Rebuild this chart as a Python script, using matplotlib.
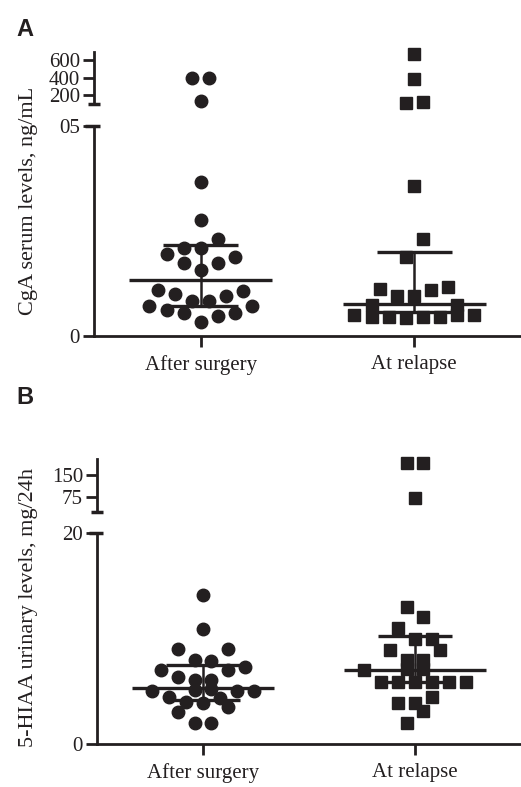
import numpy as np
import matplotlib
matplotlib.use("Agg")
import matplotlib.pyplot as plt

# ---- data ----
groups = ["After surgery", "At relapse"]

# panel A: CgA serum levels (ng/mL); slot = beeswarm column (half-steps)
cga_surgery = [395, 395, 134, 36.6, 27.6, 23.2, 20.9, 20.9, 19.5, 18.7, 17.3, 17.3, 15.7,
               11.0, 10.0, 10.8, 9.4, 8.4, 8.4, 7.1, 6.2, 7.1, 5.4, 4.8, 5.4, 3.4]
cga_surgery_slot = [-1, 1, 0, 0, 0, 2, -2, 0, -4, 4, -2, 2, 0,
                    -5, -3, 5, 3, -1, 1, -6, -4, 6, -2, 2, 4, 0]
cga_relapse = [667, 380, 108, 127, 35.7, 23.0, 18.8, 11.1, 9.6, 9.4, 11.0, 11.7,
               7.4, 7.4, 5.0, 4.6, 4.6, 4.2, 4.6, 4.6, 5.0, 5.0]
cga_relapse_slot = [0, 0, -1, 1, 0, 1, -1, -4, -2, 0, 2, 4,
                    -5, 5, -7, -5, -3, -1, 1, 3, 5, 7]
# median, q1, q3
cga_stats = [(13.3, 7.1, 21.7), (7.6, 5.8, 20.0)]

# panel B: 5-HIAA urinary levels (mg/24h)
hiaa_surgery = [14.1, 10.9, 9.0, 9.0, 8.0, 7.9, 7.0, 7.3, 7.0, 6.4, 6.1, 6.1, 5.1,
                5.2, 5.0, 5.0, 5.0, 4.5, 4.0, 3.9, 4.4, 3.5, 3.0, 2.0, 2.0]
hiaa_surgery_slot = [0, 0, -3, 3, -1, 1, -5, 5, 3, -3, -1, 1, -1,
                     1, -6, 6, 4, -4, -2, 0, 2, 3, -3, -1, 1]
hiaa_relapse = [192, 190, 71, 13.0, 12.0, 11.0, 10.0, 10.0, 8.9, 8.9, 8.0, 8.0, 7.1, 7.1,
                7.0, 5.9, 5.9, 5.9, 5.9, 5.9, 5.9, 4.5, 3.9, 3.9, 3.1, 2.0]
hiaa_relapse_slot = [-1, 1, 0, -1, 1, -2, 0, 2, -3, 3, -1, 1, -1, 1,
                     -6, -4, -2, 0, 2, 4, 6, 2, -2, 0, 1, -1]
hiaa_stats = [(5.3, 4.2, 7.5), (7.0, 5.9, 10.2)]

INK = "#231f20"
SLOT = 0.04
SERIF = "Liberation Serif"


def make_axes(fig, left, bottom_lo, h_lo, bottom_hi, h_hi):
    w = 1.0 - left
    ax_lo = fig.add_axes([left, bottom_lo, w, h_lo])
    ax_hi = fig.add_axes([left, bottom_hi, w, h_hi])
    for ax in (ax_lo, ax_hi):
        ax.set_xlim(0.5, 2.5)
        ax.spines["top"].set_visible(False)
        ax.spines["right"].set_visible(False)
        ax.spines["left"].set_linewidth(2)
        ax.spines["left"].set_color(INK)
        ax.tick_params(axis="y", direction="out", length=8, width=2, color=INK,
                       labelsize=15, pad=2, labelcolor=INK)
    ax_hi.spines["bottom"].set_visible(False)
    ax_hi.set_xticks([])
    ax_lo.spines["bottom"].set_linewidth(2)
    ax_lo.spines["bottom"].set_color(INK)
    ax_lo.set_xticks([1, 2])
    ax_lo.set_xticklabels(groups, family=SERIF, fontsize=15, color=INK)
    ax_lo.tick_params(axis="x", direction="out", length=8, width=2, color=INK, pad=6)
    # break caps
    ax_hi.plot([-0.014, 0.014], [0, 0], transform=ax_hi.transAxes, color=INK,
               lw=2.5, clip_on=False, solid_capstyle="butt")
    ax_lo.plot([-0.02, 0.014], [1, 1], transform=ax_lo.transAxes, color=INK,
               lw=2.5, clip_on=False, solid_capstyle="butt")
    return ax_lo, ax_hi


def scatter_group(ax_lo, ax_hi, pos, values, slots, split, marker, ms):
    v = np.array(values)
    x = pos + np.array(slots) * SLOT
    hi = v > split
    ax_lo.plot(x[~hi], v[~hi], ls="none", marker=marker, ms=ms, color=INK,
               mec=INK, zorder=2, clip_on=False)
    ax_hi.plot(x[hi], v[hi], ls="none", marker=marker, ms=ms, color=INK,
               mec=INK, zorder=2, clip_on=False)


def draw_stats(ax, pos, stats):
    med, q1, q3 = stats
    ax.hlines(med, pos - 0.335, pos + 0.335, color=INK, lw=2.4, zorder=3)
    ax.hlines([q1, q3], pos - 0.175, pos + 0.175, color=INK, lw=2.4, zorder=3)
    ax.vlines(pos, q1, q3, color=INK, lw=1.8, zorder=3)


plt.rcParams["font.family"] = [SERIF, "DejaVu Serif"]
fig = plt.figure(figsize=(5.21, 7.87), dpi=100)

# ---- panel A ----
a_lo, a_hi = make_axes(fig, 0.1804, 0.5731, 0.2668, 0.8679, 0.0661)
a_lo.set_ylim(0, 50)
a_lo.set_yticks([0, 50])
a_lo.set_yticklabels(["0", "05"], family=SERIF)
a_hi.set_ylim(100, 690)
a_hi.set_yticks([200, 400, 600])
a_hi.set_yticklabels(["200", "400", "600"], family=SERIF)
scatter_group(a_lo, a_hi, 1, cga_surgery, cga_surgery_slot, 60, "o", 9)
scatter_group(a_lo, a_hi, 2, cga_relapse, cga_relapse_slot, 60, "s", 8)
for i, st in enumerate(cga_stats):
    draw_stats(a_lo, i + 1, st)
fig.text(0.054, 0.745, "CgA serum levels, ng/mL", rotation=90, ha="center",
         va="center", fontsize=16, family=SERIF, color=INK)
fig.text(0.032, 0.963, "A", fontsize=17, fontweight="bold", family="Liberation Sans",
         color=INK, ha="left", va="center")

# ---- panel B ----
b_lo, b_hi = make_axes(fig, 0.1862, 0.0546, 0.2681, 0.3494, 0.0673)
b_lo.set_ylim(0, 20)
b_lo.set_yticks([0, 20])
b_lo.set_yticklabels(["0", "20"], family=SERIF)
b_hi.set_ylim(24, 205)
b_hi.set_yticks([75, 150])
b_hi.set_yticklabels(["75", "150"], family=SERIF)
scatter_group(b_lo, b_hi, 1, hiaa_surgery, hiaa_surgery_slot, 30, "o", 9)
scatter_group(b_lo, b_hi, 2, hiaa_relapse, hiaa_relapse_slot, 30, "s", 8)
for i, st in enumerate(hiaa_stats):
    draw_stats(b_lo, i + 1, st)
fig.text(0.054, 0.228, "5-HIAA urinary levels, mg/24h", rotation=90, ha="center",
         va="center", fontsize=16, family=SERIF, color=INK)
fig.text(0.032, 0.495, "B", fontsize=17, fontweight="bold", family="Liberation Sans",
         color=INK, ha="left", va="center")

fig.savefig("out.png", dpi=100)
